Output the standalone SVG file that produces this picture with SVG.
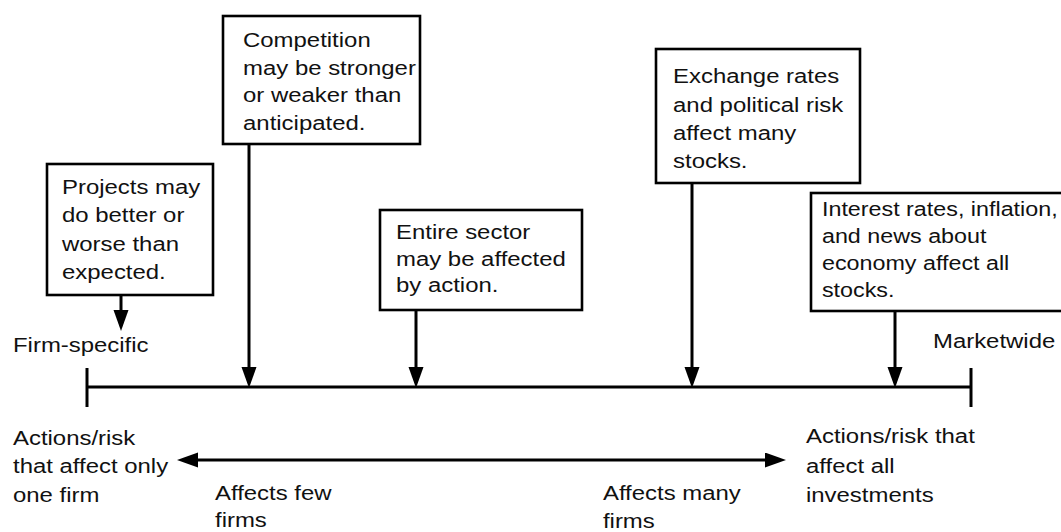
<svg xmlns="http://www.w3.org/2000/svg" width="1061" height="532" viewBox="0 0 1061 532">
<style>
.box{fill:#fff;stroke:#000;stroke-width:2.6}
.ln{stroke:#000;stroke-width:3;fill:none}
text{font-family:"Liberation Sans",Arial,Helvetica,sans-serif;font-size:21px;fill:#111}
</style>
<defs>
<marker id="ah" markerUnits="userSpaceOnUse" markerWidth="22" markerHeight="16" viewBox="0 0 22 16" refX="14" refY="7.5" orient="auto">
<path d="M0,0 L21,7.5 L0,15 z" fill="#000"/>
</marker>
</defs>
<rect width="1061" height="532" fill="#fff"/>
<g id="connectors">
<line class="ln" x1="87" y1="387" x2="971" y2="387"/>
<line class="ln" x1="87" y1="368" x2="87" y2="407"/>
<line class="ln" x1="971" y1="368" x2="971" y2="407"/>
<line class="ln" x1="121" y1="295" x2="121" y2="324" marker-end="url(#ah)"/>
<line class="ln" x1="249" y1="144" x2="249" y2="381" marker-end="url(#ah)"/>
<line class="ln" x1="416" y1="310" x2="416" y2="381" marker-end="url(#ah)"/>
<line class="ln" x1="692" y1="183" x2="692" y2="381" marker-end="url(#ah)"/>
<line class="ln" x1="895" y1="311" x2="895" y2="381" marker-end="url(#ah)"/>
<line class="ln" x1="480" y1="460" x2="184" y2="460" marker-end="url(#ah)"/>
<line class="ln" x1="480" y1="460" x2="779" y2="460" marker-end="url(#ah)"/>
</g>
<g id="projects">
<rect class="box" x="47" y="164" width="166" height="131"/>
<text transform="scale(1.14,1)"><tspan x="54.4" y="194">Projects may</tspan><tspan x="54.4" y="222">do better or</tspan><tspan x="54.4" y="251">worse than</tspan><tspan x="54.4" y="279">expected.</tspan></text>
</g>
<g id="competition">
<rect class="box" x="223" y="16" width="197" height="128"/>
<text transform="scale(1.14,1)"><tspan x="213.2" y="47">Competition</tspan><tspan x="213.2" y="75">may be stronger</tspan><tspan x="213.2" y="102">or weaker than</tspan><tspan x="213.2" y="130">anticipated.</tspan></text>
</g>
<g id="sector">
<rect class="box" x="380" y="210" width="202" height="100"/>
<text transform="scale(1.14,1)"><tspan x="347.4" y="239">Entire sector</tspan><tspan x="347.4" y="266">may be affected</tspan><tspan x="347.4" y="292">by action.</tspan></text>
</g>
<g id="exchange">
<rect class="box" x="656" y="49" width="204" height="134"/>
<text transform="scale(1.14,1)"><tspan x="590.4" y="83">Exchange rates</tspan><tspan x="590.4" y="112">and political risk</tspan><tspan x="590.4" y="140">affect many</tspan><tspan x="590.4" y="168">stocks.</tspan></text>
</g>
<g id="interest">
<rect class="box" x="811" y="193" width="260" height="118"/>
<text transform="scale(1.11,1)"><tspan x="740.5" y="216">Interest rates, inflation,</tspan><tspan x="740.5" y="243">and news about</tspan><tspan x="740.5" y="270">economy affect all</tspan><tspan x="740.5" y="297">stocks.</tspan></text>
</g>
<g id="labels">
<text transform="scale(1.14,1)" x="11.4" y="352">Firm-specific</text>
<text transform="scale(1.14,1)" x="818.4" y="348">Marketwide</text>
<text transform="scale(1.14,1)"><tspan x="11.4" y="445">Actions/risk</tspan><tspan x="11.4" y="473">that affect only</tspan><tspan x="11.4" y="502">one firm</tspan></text>
<text transform="scale(1.14,1)"><tspan x="188.6" y="500">Affects few</tspan><tspan x="188.6" y="527">firms</tspan></text>
<text transform="scale(1.14,1)"><tspan x="528.9" y="500">Affects many</tspan><tspan x="528.9" y="528">firms</tspan></text>
<text transform="scale(1.14,1)"><tspan x="707" y="443">Actions/risk that</tspan><tspan x="707" y="473">affect all</tspan><tspan x="707" y="502">investments</tspan></text>
</g>
</svg>
